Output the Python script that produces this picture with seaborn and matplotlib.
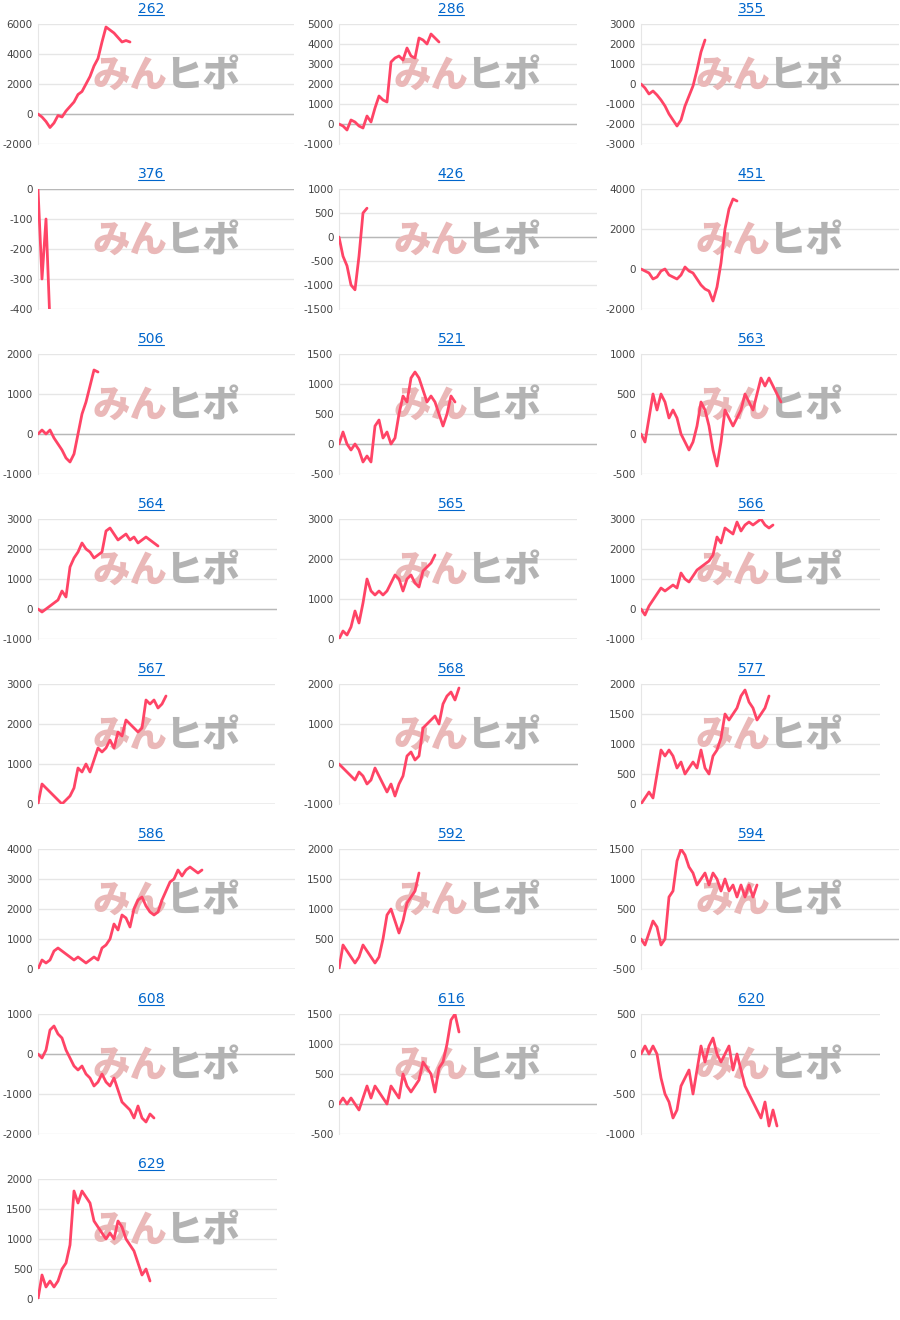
import matplotlib
matplotlib.use("Agg")
import matplotlib.pyplot as plt
import seaborn as sns
import numpy as np
import pandas as pd

titles = ["262","286","355","376","426","451","506","521","563","564","565","566",
          "567","568","577","586","592","594","608","616","620","629"]

s262 = [0,-200,-500,-900,-600,-100,-200,200,500,800,1300,1500,2000,2500,3200,3700,4800,5800,5600,5400,5100,4800,4900,4800]
s286 = [0,-100,-300,200,100,-100,-200,400,100,800,1400,1200,1100,3100,3300,3400,3200,3800,3400,3300,4300,4200,4000,4500,4300,4100]
s355 = [0,-200,-500,-350,-550,-800,-1100,-1500,-1800,-2100,-1800,-1100,-600,-100,700,1600,2200]
s376 = [0,-300,-100,-450]
s426 = [0,-400,-600,-1000,-1100,-400,500,600]
s451 = [0,-100,-200,-500,-400,-100,0,-300,-400,-500,-300,100,-100,-200,-500,-800,-1000,-1100,-1600,-900,300,2000,3000,3500,3400]
s506 = [0,100,0,100,-100,-250,-400,-600,-700,-500,0,500,800,1200,1600,1550]
s521 = [0,200,0,-100,0,-100,-300,-200,-300,300,400,100,200,0,100,500,800,700,1100,1200,1100,900,700,800,700,500,300,500,800,700]
s563 = [0,-100,200,500,300,500,400,200,300,200,0,-100,-200,-100,100,400,300,100,-200,-400,-100,300,200,100,200,300,500,400,300,500,700,600,700,600,500,400]
s564 = [0,-100,0,100,200,300,600,400,1400,1700,1900,2200,2000,1900,1700,1800,1900,2600,2700,2500,2300,2400,2500,2300,2400,2200,2300,2400,2300,2200,2100]
s565 = [0,200,100,300,700,400,900,1500,1200,1100,1200,1100,1200,1400,1600,1500,1200,1500,1600,1400,1300,1700,1800,1900,2100]
s566 = [0,-200,100,300,500,700,600,700,800,700,1200,1000,900,1100,1300,1400,1500,1600,1800,2400,2200,2700,2600,2500,2900,2600,2800,2900,2800,2900,3000,2800,2700,2800]
s567 = [0,500,400,300,200,100,0,100,200,400,900,800,1000,800,1100,1400,1300,1400,1600,1400,1800,1700,2100,2000,1900,1800,1900,2600,2500,2600,2400,2500,2700]
s568 = [0,-100,-200,-300,-400,-200,-300,-500,-400,-100,-300,-500,-700,-500,-800,-500,-300,200,300,100,200,900,1000,1100,1200,1000,1500,1700,1800,1600,1900]
s577 = [0,100,200,100,500,900,800,900,800,600,700,500,600,700,600,900,600,500,800,900,1100,1500,1400,1500,1600,1800,1900,1700,1600,1400,1500,1600,1800]
s586 = [0,300,200,300,600,700,600,500,400,300,400,300,200,300,400,300,700,800,1000,1500,1300,1800,1700,1400,2000,2300,2400,2100,1900,1800,1900,2300,2600,2900,3000,3300,3100,3300,3400,3300,3200,3300]
s592 = [0,400,300,200,100,200,400,300,200,100,200,500,900,1000,800,600,800,1100,1200,1300,1600]
s594 = [0,-100,100,300,200,-100,0,700,800,1300,1500,1400,1200,1100,900,1000,1100,900,1100,1000,800,1000,800,900,700,900,700,900,700,900]
s608 = [0,-100,100,600,700,500,400,100,-100,-300,-400,-300,-500,-600,-800,-700,-500,-700,-800,-600,-900,-1200,-1300,-1400,-1600,-1300,-1600,-1700,-1500,-1600]
s616 = [0,100,0,100,0,-100,100,300,100,300,200,100,0,300,200,100,500,300,200,300,400,700,600,500,200,600,700,1000,1400,1500,1200]
s620 = [0,100,0,100,0,-300,-500,-600,-800,-700,-400,-300,-200,-500,-200,100,-100,100,200,0,-100,0,100,-200,0,-200,-400,-500,-600,-700,-800,-600,-900,-700,-900]
s629 = [0,400,200,300,200,300,500,600,900,1800,1600,1800,1700,1600,1300,1200,1100,1000,1100,1000,1300,1200,1000,900,800,600,400,500,300]

series = [s262,s286,s355,s376,s426,s451,s506,s521,s563,s564,s565,s566,
          s567,s568,s577,s586,s592,s594,s608,s616,s620,s629]

yticks = [(-2000,6000,2000),(-1000,5000,1000),(-3000,3000,1000),(-400,0,100),(-1500,1000,500),(-2000,4000,2000),
          (-1000,2000,1000),(-500,1500,500),(-500,1000,500),(-1000,3000,1000),(0,3000,1000),(-1000,3000,1000),
          (0,3000,1000),(-1000,2000,1000),(0,2000,500),(0,4000,1000),(0,2000,500),(-500,1500,500),
          (-2000,1000,1000),(-500,1500,500),(-1000,500,500),(0,2000,500)]

rights = [294,577,899,294,597,899,295,597,897,277,577,880,275,578,880,295,597,899,295,597,880,277]
lefts = [38,339,641]
centers = [151, 451, 751]

W, H = 900, 1320
fig = plt.figure(figsize=(9, 13.2), dpi=100)
sns.set_style("white")
plt.rcParams['font.family'] = ['DejaVu Sans']
ftr = fig.transFigure

for i, (t, s) in enumerate(zip(titles, series)):
    r, c = divmod(i, 3)
    L = lefts[c]; R = rights[i]
    top = 24 + 165 * r; bot = 144 + 165 * r
    ax = fig.add_axes([L / W, 1 - bot / H, (R - L) / W, (bot - top) / H])
    lo, hi, st = yticks[i]
    ticks = np.arange(lo, hi + st, st)
    df = pd.DataFrame({"x": np.arange(len(s)), "y": s})
    cx = L + 55
    wy = 1 - (top + 52) / H
    ax.text(cx / W, wy, "みん", fontsize=27, fontweight='heavy', color='#eab8b8',
            family=['Noto Sans CJK JP'], ha='left', va='center', transform=ftr, zorder=2, clip_on=False)
    ax.text((cx + 72) / W, wy, "ヒポ", fontsize=27, fontweight='heavy', color='#b3b3b3',
            family=['Noto Sans CJK JP'], ha='left', va='center', transform=ftr, zorder=2, clip_on=False)
    for tk in ticks:
        ax.axhline(tk, color='#e6e6e6', lw=1, zorder=1)
    ax.axhline(0, color='#b8b8b8', lw=1, zorder=1)
    sns.lineplot(data=df, x="x", y="y", ax=ax, color='#ff4466', lw=2, zorder=3)
    ax.set_xlim(0, (R - L) / 4)
    ax.set_ylim(lo, hi)
    ax.set_yticks(ticks)
    ax.set_yticklabels([str(int(v)) for v in ticks], fontsize=7.5, color='#444444')
    ax.tick_params(axis='y', length=0, pad=4)
    ax.set_xticks([])
    ax.set_xlabel(""); ax.set_ylabel("")
    for sp in ['top', 'right', 'bottom']:
        ax.spines[sp].set_visible(False)
    ax.spines['left'].set_color('#e6e6e6')
    fig.text(centers[c] / W, 1 - (9 + 165 * r) / H, t, fontsize=10, color='#0066cc',
             ha='center', va='center')

fig.canvas.draw()
for txt in list(fig.texts):
    bb = txt.get_window_extent()
    y = (bb.y0 + 1) / H
    fig.add_artist(plt.Line2D([bb.x0 / W, bb.x1 / W], [y, y], color='#0066cc', lw=0.8, transform=ftr))

fig.savefig("out.png", dpi=100)
